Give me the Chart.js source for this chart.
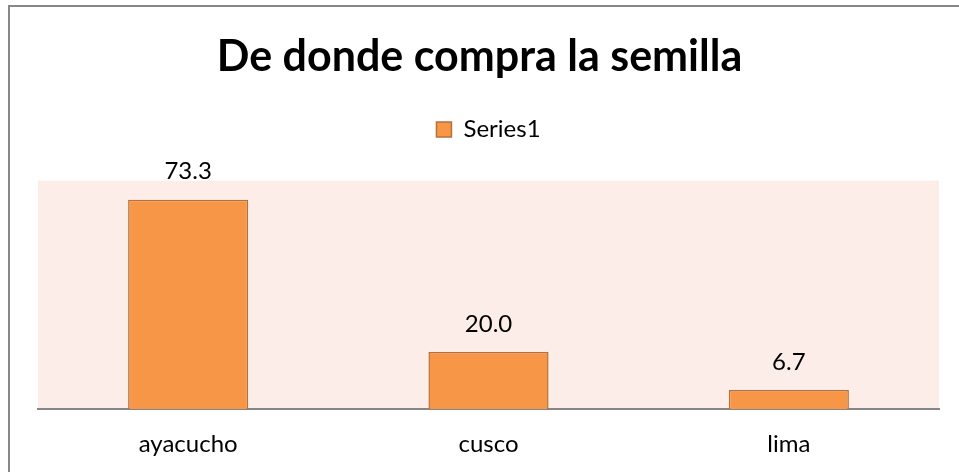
<!DOCTYPE html>
<html>
<head>
<meta charset="utf-8">
<script src="https://cdn.jsdelivr.net/npm/chart.js@4"></script>
<style>
  body { margin: 0; background: #fff; overflow: hidden; }
  #wrap { position: relative; width: 959px; height: 472px; overflow: hidden; }
  #frame { position: absolute; left: 8px; top: 5px; width: 960px; height: 480px;
    border-left: 2px solid #888; border-top: 2px solid #888; pointer-events: none; }
</style>
</head>
<body>
<div id="wrap">
  <canvas id="myChart" width="959" height="480"></canvas>
  <div id="frame"></div>
</div>
<script>
const categories = ["ayacucho", "cusco", "lima"];
const values = [73.3, 20.0, 6.7];
const seriesName = "Series1";

// light pink plot area behind the bars
const plotBg = {
  id: "plotBg",
  beforeDraw(chart) {
    const { ctx, chartArea: a } = chart;
    ctx.save();
    ctx.fillStyle = "rgb(253,237,233)";
    ctx.fillRect(a.left, a.top, a.right - a.left, a.bottom - a.top);
    ctx.restore();
  },
};

// more room between legend and plot, title centred on the whole canvas
const layoutTweaks = {
  id: "layoutTweaks",
  beforeInit(chart) {
    const fit = chart.legend.fit;
    chart.legend.fit = function () {
      fit.bind(chart.legend)();
      this.height += 29;
    };
  },
  afterLayout(chart) {
    if (chart.titleBlock) {
      chart.titleBlock.left = 0;
      chart.titleBlock.right = chart.width;
      chart.titleBlock.width = chart.width;
    }
  },
};

// value labels above each bar
const barLabels = {
  id: "barLabels",
  afterDatasetsDraw(chart) {
    const ctx = chart.ctx;
    const meta = chart.getDatasetMeta(0);
    ctx.save();
    ctx.font = "24px Lato";
    ctx.fillStyle = "#000";
    ctx.textAlign = "center";
    ctx.textBaseline = "middle";
    meta.data.forEach((bar, i) => {
      ctx.fillText(values[i].toFixed(1), bar.x, bar.y - 28);
    });
    ctx.restore();
  },
};

var ctx = document.getElementById("myChart").getContext("2d");
var chart = new Chart(ctx, {
  type: "bar",
  data: {
    labels: categories,
    datasets: [
      {
        label: seriesName,
        data: values,
        backgroundColor: "#F79646",
        borderColor: "#B8703A",
        borderWidth: 1.5,
        categoryPercentage: 1,
        barPercentage: 0.4,
      },
    ],
  },
  options: {
    responsive: false,
    animation: false,
    layout: { padding: { left: 38, right: 20, top: 0, bottom: 0 } },
    plugins: {
      title: {
        display: true,
        text: "De donde compra la semilla",
        color: "#000",
        font: { family: "Lato", size: 43, weight: "bold" },
        padding: { top: 31, bottom: 0 },
      },
      legend: {
        display: true,
        labels: {
          color: "#000",
          font: { family: "Lato", size: 24 },
          boxWidth: 15,
          boxHeight: 15,
          padding: 35,
        },
      },
      tooltip: { enabled: false },
    },
    scales: {
      x: {
        grid: { display: false, drawTicks: false },
        border: { display: true, color: "#868686", width: 2 },
        ticks: { color: "#000", font: { family: "Lato", size: 24 }, padding: 21 },
      },
      y: { display: false, min: 0, max: 80 },
    },
  },
  plugins: [plotBg, layoutTweaks, barLabels],
});
</script>
</body>
</html>
